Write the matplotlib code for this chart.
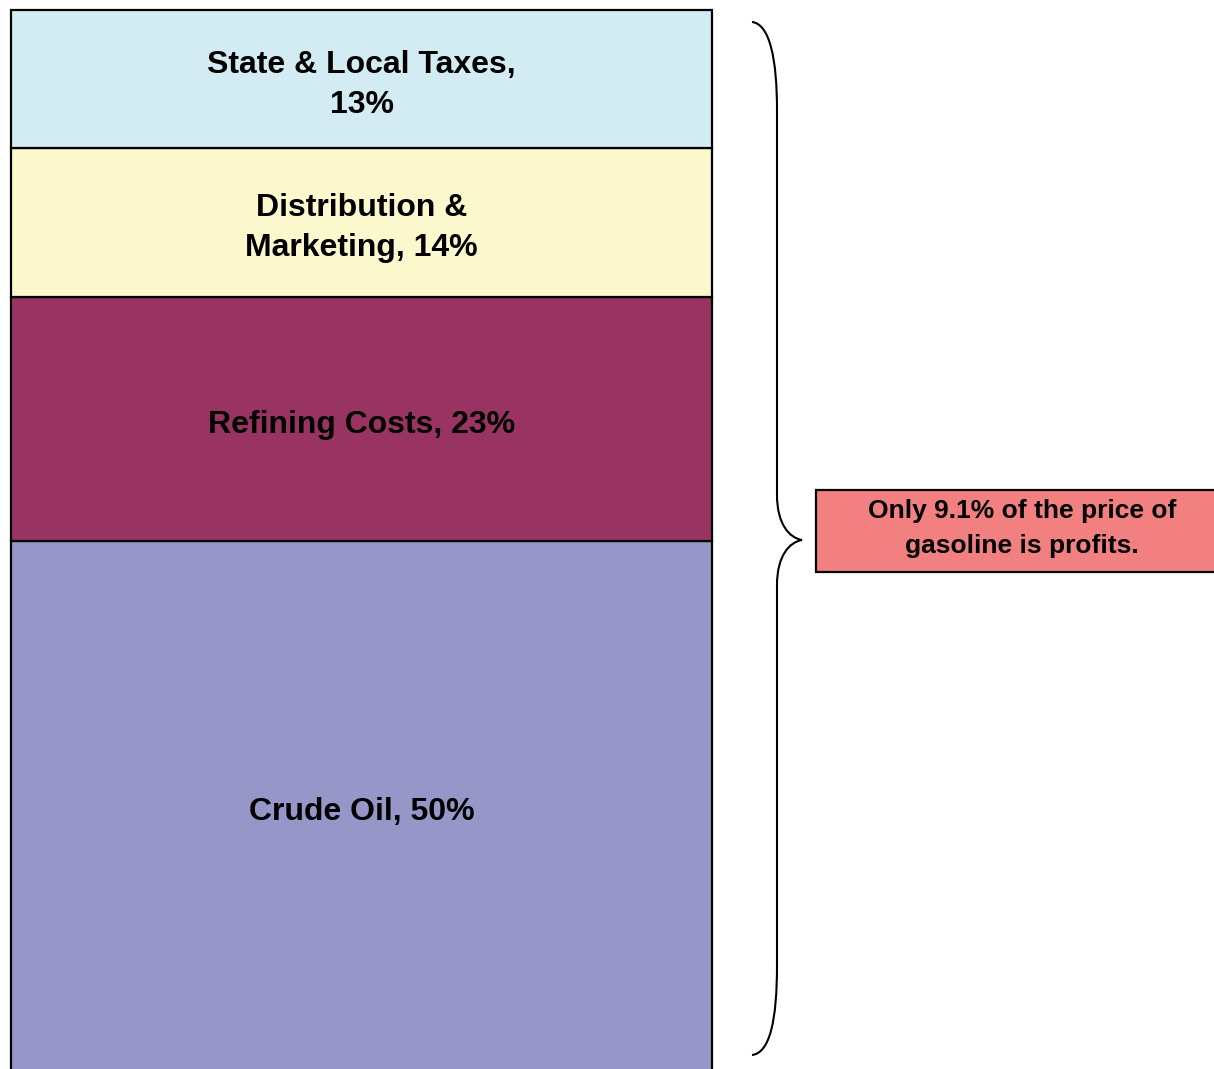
import matplotlib
matplotlib.use("Agg")
import matplotlib.pyplot as plt
from matplotlib.path import Path
from matplotlib.patches import PathPatch, Rectangle

plt.rcParams['font.family'] = ['Liberation Sans', 'DejaVu Sans']

labels = ["Crude Oil, 50%", "Refining Costs, 23%", "Distribution &\nMarketing, 14%", "State & Local Taxes,\n13%"]
values = [50, 23, 14, 13]
colors = ["#9696C9", "#993462", "#FBF8CD", "#D3EBF2"]
note = "Only 9.1% of the price of\ngasoline is profits."

W, H = 1214, 1069
fig = plt.figure(figsize=(W / 100, H / 100), dpi=100)
ax = fig.add_axes([0, 0, 1, 1])
# y data units are percent; 1% = 10.62 px, 0% at pixel row 1072
scale = 10.62
y0_px = 1072
ax.set_xlim(0, W)
ax.set_ylim((y0_px - H) / scale, y0_px / scale)
ax.axis('off')

def py(p):
    return (y0_px - p) / scale

bottom = 0
for lab, v, c in zip(labels, values, colors):
    ax.bar(361.5, v, width=701, bottom=bottom, color=c, edgecolor='black', linewidth=1.6)
    ax.text(361.5, bottom + v / 2 - 0.55, lab, ha='center', va='center', fontsize=23,
            fontweight='bold', linespacing=1.42)
    bottom += v

# curly brace
verts_px = [
    (752, 22), (770, 24), (777, 60), (777, 110),
    (777, 495),
    (777, 525), (790, 538), (802, 540),
    (790, 542), (777, 555), (777, 585),
    (777, 965),
    (777, 1020), (770, 1053), (752, 1055),
]
codes = [Path.MOVETO, Path.CURVE4, Path.CURVE4, Path.CURVE4,
         Path.LINETO,
         Path.CURVE4, Path.CURVE4, Path.CURVE4,
         Path.CURVE4, Path.CURVE4, Path.CURVE4,
         Path.LINETO,
         Path.CURVE4, Path.CURVE4, Path.CURVE4]
verts = [(x, py(y)) for x, y in verts_px]
ax.add_patch(PathPatch(Path(verts, codes), fill=False, edgecolor='black', linewidth=1.5))

# note box
ax.add_patch(Rectangle((816, py(572)), 420, py(490) - py(572), facecolor='#F28080',
                       edgecolor='black', linewidth=1.6, clip_on=True))
ax.text(1022, py(528.5), note, ha='center', va='center', fontsize=19,
        fontweight='bold', linespacing=1.55)

fig.savefig("out.png", dpi=100)
